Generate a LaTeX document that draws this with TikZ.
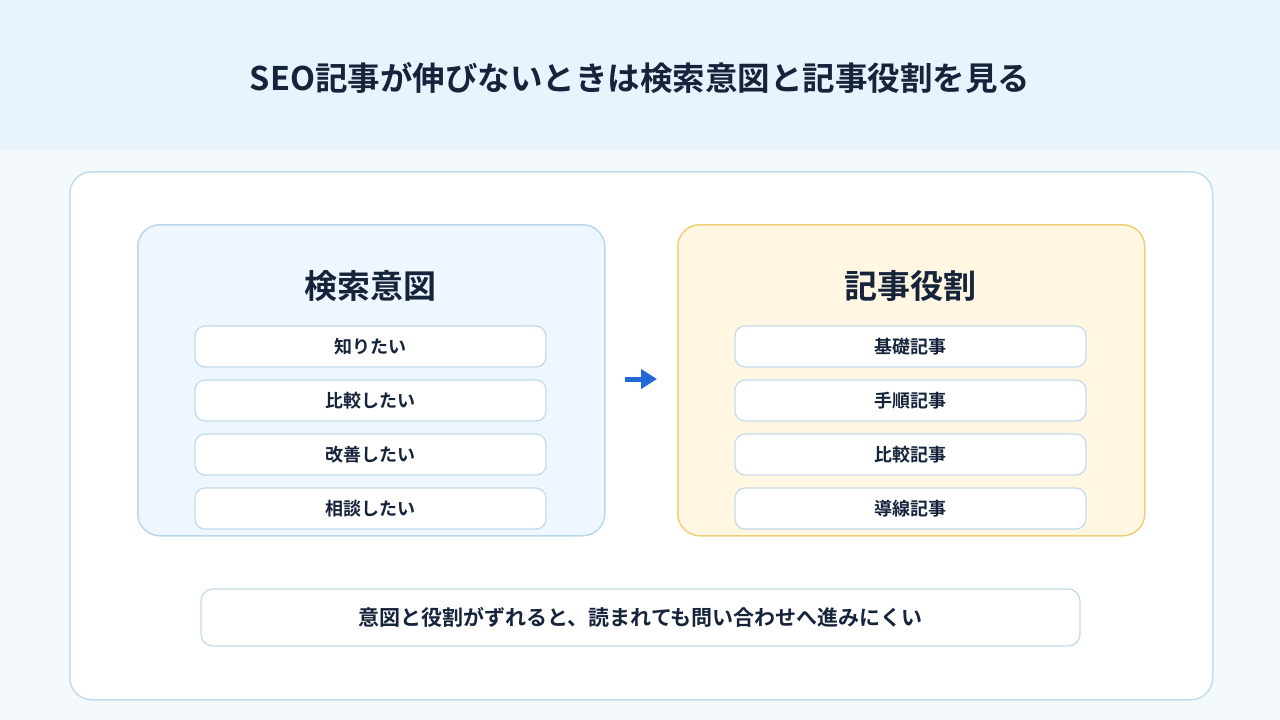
\documentclass[tikz,border=0pt]{standalone}
\usepackage{fontspec}
\setmainfont{Noto Sans CJK JP}[BoldFont={Noto Sans CJK JP Bold}]
\usetikzlibrary{positioning,arrows.meta}

\definecolor{ink}{HTML}{15233B}
\definecolor{headbg}{HTML}{E7F3FD}
\definecolor{pagebg}{HTML}{F4F9FE}
\definecolor{cardline}{HTML}{C2DCEC}
\definecolor{intentfill}{HTML}{EEF6FF}
\definecolor{intentline}{HTML}{BBD7EC}
\definecolor{rolefill}{HTML}{FFF7E1}
\definecolor{roleline}{HTML}{EFCF77}
\definecolor{itemline}{HTML}{C5DBEA}
\definecolor{arrowblue}{HTML}{2468D8}

\begin{document}
\begin{tikzpicture}[x=1pt, y=-1pt,
  panel/.style={draw, line width=1.5pt, rounded corners=22pt, anchor=north west,
    minimum width=467pt, minimum height=311pt},
  item/.style={draw=itemline, fill=white, line width=1.3pt, rounded corners=10pt,
    minimum width=351pt, minimum height=41pt, text=ink,
    font=\bfseries\fontsize{18}{20}\selectfont},
  head/.style={text=ink, font=\bfseries\fontsize{33}{38}\selectfont}]
\useasboundingbox (0,0) rectangle (1280,720);
\fill[pagebg] (0,0) rectangle (1280,720);
\fill[headbg] (0,0) rectangle (1280,150);

\node[head, font=\bfseries\fontsize{32.5}{38}\selectfont] (title) at (640,78)
  {SEO記事が伸びないときは検索意図と記事役割を見る};

% white card
\node[draw=cardline, fill=white, line width=1.5pt, rounded corners=22pt, anchor=north west,
  minimum width=1143pt, minimum height=528pt] (card) at (69,171) {};

% left and right panels
\node[panel, draw=intentline, fill=intentfill] (intent) at (137,224) {};
\node[panel, draw=roleline, fill=rolefill] (role) at (677,224) {};
\node[head] (intenthead) at (370.5,286) {検索意図};
\node[head] (rolehead) at (910.5,286) {記事役割};

\node[item] (i1) at (370.5,346.5) {知りたい};
\node[item, below=11.7pt of i1] (i2) {比較したい};
\node[item, below=11.7pt of i2] (i3) {改善したい};
\node[item, below=11.7pt of i3] (i4) {相談したい};

\node[item] (r1) at (910.5,346.5) {基礎記事};
\node[item, below=11.7pt of r1] (r2) {手順記事};
\node[item, below=11.7pt of r2] (r3) {比較記事};
\node[item, below=11.7pt of r3] (r4) {導線記事};

\draw[-{Triangle[length=16pt,width=19pt]}, line width=5pt, arrowblue,
  shorten <=19pt, shorten >=20pt] (intent.east |- 0,379) -- (role.west |- 0,379);

% bottom note
\node[draw=itemline, fill=white, line width=1.3pt, rounded corners=12pt,
  minimum width=879pt, minimum height=57pt, text=ink,
  font=\bfseries\fontsize{21}{24}\selectfont] (note) at (640.5,617.5)
  {意図と役割がずれると、読まれても問い合わせへ進みにくい};
\end{tikzpicture}
\end{document}
